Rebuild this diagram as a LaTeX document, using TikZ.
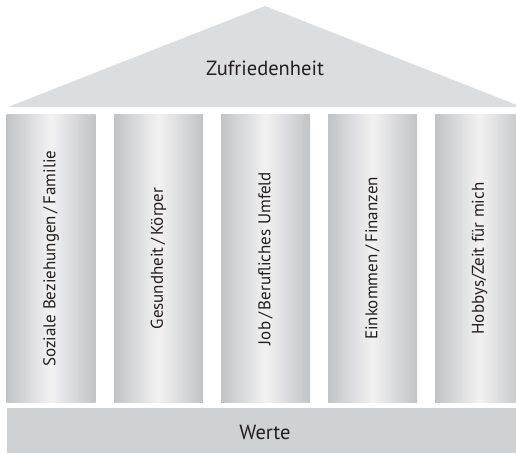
\documentclass[tikz,border=0pt]{standalone}
\usepackage{fontspec}
\setmainfont{PT Sans}
\definecolor{dachgrau}{HTML}{DCDDDF}
\definecolor{sockelgrau}{HTML}{D0D1D3}
\definecolor{saeulenrand}{HTML}{C2C3C5}
\definecolor{saeulenlicht}{HTML}{F2F2F3}
\definecolor{schrift}{HTML}{231F20}
\pgfdeclarehorizontalshading{saeulenlauf}{100bp}{color(0bp)=(saeulenrand);
  color(25bp)=(saeulenrand); color(50bp)=(saeulenlicht);
  color(75bp)=(saeulenrand); color(100bp)=(saeulenrand)}
\tikzset{
  saeule/.style={minimum width=89pt, minimum height=287pt,
    shading=saeulenlauf, inner sep=0pt, text=schrift,
    font=\fontsize{17}{20}\selectfont},
  gross/.style={text=schrift, font=\fontsize{20.5}{24}\selectfont}
}
\begin{document}
\begin{tikzpicture}[x=1pt, y=-1pt]
        \clip (0, 0) rectangle (516, 454);
        \fill[white] (0, 0) rectangle (516, 454);

        % Dach
        \fill[dachgrau] (8, 107) -- (265, 6) -- (522, 107) -- cycle;
        \node (dach) at (265, 68) [gross] {Zufriedenheit};

        % Saeulen
        \foreach \x/\name/\inhalt in {51/s1/{Soziale Beziehungen\,/\,Familie},
                                       158.5/s2/{Gesundheit\,/\,Körper},
                                       265.5/s3/{Job\,/\,Berufliches Umfeld},
                                       372.5/s4/{Einkommen\,/\,Finanzen},
                                       479.5/s5/{Hobbys/Zeit für mich}}
            \node (\name) at (\x, 258.5) [saeule] {\rotatebox{90}{\inhalt}};

        % Sockel
        \fill[sockelgrau] (7, 408) rectangle (516, 453);
        \node (sockel) at (265, 432) [gross] {Werte};
    \end{tikzpicture}
\end{document}
